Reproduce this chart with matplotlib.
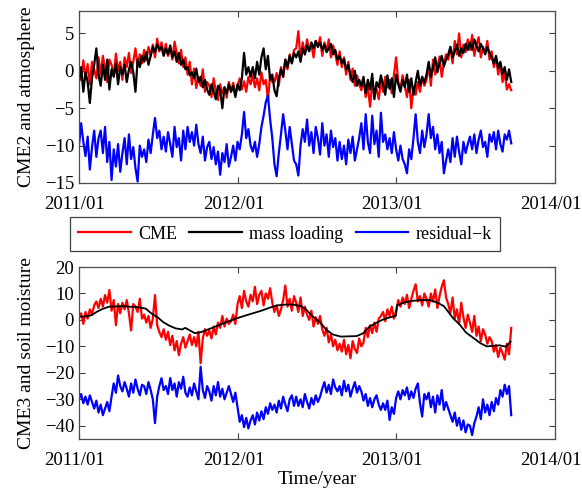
import numpy as np
import matplotlib
matplotlib.use("Agg")
import matplotlib.pyplot as plt
import matplotlib.transforms as mtransforms

plt.rcParams['font.family'] = ['Liberation Serif', 'DejaVu Serif']
plt.rcParams['axes.unicode_minus'] = True

# ---------------- data ----------------
start_year = 2011.0
step_days = 5  # sampling interval of the series below

cme2 = [0.5, -1.2, 1.4, -0.8, 0.9, -1.8, 1.2, 0.2, -1.0, 1.8,
        -0.5, 2.0, 0.3, -1.5, 1.5, 0.8, -0.6, 2.3, 0.0, 1.2,
        -1.2, 1.8, 0.5, 2.4, -0.3, 1.2, 3.0, 0.6, 2.2, 1.0,
        2.8, 1.4, 3.2, 2.0, 3.5, 1.8, 4.3, 2.6, 3.8, 2.2,
        3.6, 2.0, 3.2, 1.5, 3.9, 2.4, 1.0, 2.8, 0.5, 1.8,
        -0.5, 1.2, -1.8, 0.3, -2.3, -0.8, -2.0, 0.2, -2.8, -1.5,
        -2.0, -3.5, -1.0, -2.8, -3.9, -1.8, -3.0, -2.2, -3.6, -1.5,
        -2.8, -1.6, -3.2, -2.0, -1.0, -2.5, -1.4, -2.8, -0.8, -1.8,
        -0.6, -2.2, -1.0, -2.6, -0.2, -1.8, -1.2, -3.9, -0.5, -1.5,
        -1.5, -0.3, -2.0, 0.5, -0.8, 1.5, 0.2, 2.2, 1.0, 2.8,
        3.0, 5.3, 1.5, 3.8, 2.2, 4.2, 2.8, 3.5, 1.8, 4.0,
        3.2, 4.5, 2.0, 3.8, 2.6, 4.2, 1.8, 3.4, 2.2, 0.8,
        2.6, 0.5, 1.8, -0.5, 1.2, -1.2, 0.3, -2.0, -0.6, -1.8,
        -2.6, -1.2, -3.5, -2.0, -4.8, -1.8, -3.0, -2.4, -3.8, -1.4,
        -2.8, -0.8, -2.2, -1.2, -3.0, -0.5, 1.8, -1.5, -2.4, -0.6,
        -2.0, -3.5, -1.2, -5.0, -2.2, -3.2, -1.5, -2.8, -0.8, -2.0,
        -1.2, 0.8, -2.0, 1.5, -0.5, 0.5, 1.9, -0.8, 1.0, 2.2,
        1.5, 3.2, 1.0, 4.0, 2.2, 5.0, 1.8, 3.5, 2.5, 4.2,
        2.8, 4.8, 2.0, 3.5, 4.5, 1.8, 3.2, 2.4, 4.0, 1.5,
        2.6, 0.5, 1.8, -0.5, 1.0, -1.5, -0.2, -2.5, -1.8, -2.6]

mass2 = [-1.5, 0.5, -2.8, -0.2, -1.5, -4.3, -1.0, 0.8, 3.0, -0.5,
         -2.0, 0.8, -1.2, 1.5, -2.5, 0.2, -0.8, 1.0, -1.8, 0.5,
         -0.5, 0.8, -1.5, 0.2, 1.2, -0.2, -2.8, 1.5, 0.5, 2.0,
         1.2, 2.5, 0.8, 2.0, 3.2, 2.5, 3.5, 2.8, 3.2, 2.0,
         3.0, 2.2, 3.4, 1.8, 2.6, 1.2, 2.4, 0.8, 1.5, 0.2,
         0.5, -0.6, -0.2, -1.0, 0.3, -1.5, -0.8, -2.2, -1.2, -2.5,
         -3.2, -1.8, -2.8, -3.8, -2.0, -2.6, -5.0, -2.2, -3.0, -1.8,
         -2.8, -2.0, -3.5, -1.8, -2.6, -1.0, 2.4, -0.5, 0.5, -0.8,
         0.5, -1.0, 1.2, -0.5, 1.8, 3.0, 0.2, 2.0, -1.2, -0.5,
         -2.6, -3.4, -1.0, 0.2, -0.8, 1.5, 0.5, 2.0, 1.0, 2.4,
         1.8, 2.6, 1.2, 3.0, 2.2, 3.4, 2.6, 3.8, 3.0, 4.0,
         3.2, 3.8, 2.8, 3.5, 2.5, 3.0, 3.6, 2.2, 2.8, 1.5,
         2.0, 1.0, 1.6, 0.2, 0.8, -0.6, -1.5, 0.0, -2.0, -1.2,
         -2.0, -0.8, -3.0, -1.2, -2.5, -0.4, -3.8, -1.5, -2.2, -0.6,
         -1.8, -3.2, -0.6, -2.4, -1.0, -3.5, -0.5, -1.8, -2.8, -1.2,
         -2.2, -0.5, -2.8, -1.0, -3.2, -1.5, 0.0, -2.0, -0.8, -1.6,
         -0.5, 1.2, -0.8, 0.5, 1.8, -0.2, 1.0, 2.0, 0.6, 1.5,
         2.2, 3.2, 1.8, 2.6, 3.5, 2.0, 3.0, 2.4, 3.6, 2.8,
         3.8, 2.8, 4.2, 3.4, 2.6, 3.6, 3.0, 2.2, 3.2, 2.4,
         1.8, 1.0, 2.0, 0.4, 1.2, -0.4, 0.5, -1.2, 0.2, -1.5]

resid2 = [-10.0, -7.0, -9.5, -11.4, -8.8, -13.2, -10.2, -8.0, -11.5, -9.0,
          -8.0, -11.0, -7.5, -12.2, -9.5, -14.6, -10.5, -12.8, -9.8, -13.5,
          -11.0, -9.0, -12.5, -8.5, -11.8, -10.2, -13.0, -14.8, -10.0, -11.5,
          -10.5, -12.2, -9.2, -11.0, -8.5, -6.3, -9.0, -8.0, -10.5, -8.8,
          -10.8, -8.2, -9.8, -11.5, -7.5, -10.2, -9.0, -12.0, -8.0, -10.5,
          -7.5, -9.5, -8.2, -10.0, -7.2, -9.8, -11.0, -8.8, -12.0, -10.2,
          -9.5, -11.8, -10.2, -12.5, -10.8, -13.9, -11.0, -12.2, -9.8, -12.8,
          -11.5, -10.0, -12.0, -9.5, -10.5, -8.5, -5.5, -9.0, -7.8, -10.0,
          -10.8, -9.5, -11.5, -9.8, -7.5, -6.0, -4.2, -3.3, -6.5, -9.0,
          -12.5, -14.1, -11.0, -8.5, -5.8, -8.0, -10.5, -7.5, -9.8, -12.0,
          -12.5, -14.0, -10.0, -7.8, -9.5, -6.5, -10.0, -8.2, -11.0, -7.5,
          -9.0, -11.2, -7.0, -10.0, -8.5, -11.5, -8.0, -10.2, -9.0, -12.0,
          -9.5, -11.8, -10.0, -12.5, -9.2, -11.0, -8.8, -12.0, -10.5, -9.0,
          -7.0, -10.5, -5.8, -9.5, -11.0, -6.0, -9.8, -8.0, -11.5, -5.6,
          -9.5, -8.5, -10.5, -9.0, -11.0, -8.2, -10.5, -12.0, -10.0, -11.8,
          -12.5, -13.7, -10.5, -11.8, -9.0, -5.8, -9.5, -11.0, -8.0, -10.2,
          -8.5, -5.8, -9.0, -7.5, -10.5, -8.5, -11.0, -9.5, -13.7, -12.0,
          -10.5, -12.2, -9.0, -11.5, -8.8, -10.8, -12.5, -9.5, -11.0, -9.8,
          -8.8, -10.5, -8.5, -11.0, -9.2, -8.0, -10.2, -9.5, -11.5, -8.5,
          -9.5, -8.2, -10.5, -8.0, -9.8, -10.8, -8.5, -9.2, -8.0, -9.7]

cme3 = [1.0, 2.5, -1.5, 3.0, 0.5, 4.0, 2.0, 5.5, 7.0, 4.5,
        8.0, 5.0, 9.4, 6.5, 11.3, 3.5, 7.5, -2.0, 6.0, 2.5,
        6.5, 4.0, 7.5, 2.5, -4.0, 6.0, 5.0, 3.0, 8.0, 0.5,
        2.0, -1.0, 1.5, -3.0, 0.5, 9.4, -2.0, -4.5, -6.5, -3.5,
        -7.5, -4.5, -9.5, -6.0, -11.5, -8.0, -13.3, -9.0, -6.5, -10.5,
        -8.0, -5.5, -9.5, -6.5, -10.0, -4.5, -16.4, -7.0, -3.5, -6.0,
        -4.0, -7.0, -2.5, -5.5, -1.0, -3.0, 1.5, -2.5, 0.5, -1.5,
        -0.5, 2.0, -1.5, 6.0, 9.0, 4.5, 11.0, 7.0, 5.0, 9.5,
        7.0, 12.5, 6.0, 9.5, 11.0, 5.5, 10.0, 8.0, 12.0, 6.5,
        3.0, 5.5, 1.5, 4.0, 7.5, 13.0, 5.0, 8.0, 3.5, 9.0,
        6.5, 3.0, 8.5, 1.5, 5.0, 2.0, 0.0, 3.5, -2.5, 1.0,
        -1.5, 1.5, -3.5, -6.0, -3.0, -8.5, -5.5, -10.0, -7.5, -11.5,
        -9.0, -12.0, -7.5, -13.0, -9.5, -14.5, -8.0, -11.0, -12.5, -7.0,
        -10.0, -8.5, -3.0, -6.5, -2.0, -5.0, -1.0, -4.5, 0.5, 1.5,
        3.0, -0.5, 4.0, 1.5, 5.0, 0.5, 3.5, 7.5, 5.0, 8.5,
        6.0, 9.5, 4.5, 8.0, 11.0, 13.5, 7.0, 9.0, 5.5, 10.0,
        8.0, 5.0, 10.0, 7.0, 11.5, 4.5, 9.0, 12.5, 15.0, 8.5,
        6.0, 2.5, 8.5, 0.5, 4.0, -1.5, 6.5, 1.0, -3.0, 2.0,
        -1.0, -4.5, 1.5, -6.0, -2.5, -8.0, -3.5, -5.5, -9.0, -6.5,
        -8.0, -12.0, -9.5, -14.0, -10.5, -12.5, -15.0, -9.0, -13.0, -3.0]

resid3 = [-30.0, -28.0, -31.5, -29.0, -32.0, -28.5, -31.0, -33.5, -30.5, -35.0,
          -32.0, -36.0, -33.5, -31.0, -34.5, -29.0, -24.0, -27.5, -21.0, -25.0,
          -27.0, -23.5, -26.0, -29.0, -24.0, -27.5, -22.5, -26.0, -28.5, -24.5,
          -25.0, -28.0, -23.5, -26.5, -30.0, -39.0, -29.0, -25.0, -22.0, -26.5,
          -25.0, -28.0, -22.0, -26.5, -24.0, -29.0, -23.5, -26.0, -21.5, -27.5,
          -29.0, -25.5, -28.5, -24.0, -27.0, -30.0, -17.7, -26.5, -29.5, -25.0,
          -27.0, -30.5, -25.0, -28.5, -23.5, -29.0, -26.0, -30.0, -27.5, -25.0,
          -28.0, -31.0, -27.5, -33.0, -38.5, -36.0, -40.5, -37.0, -41.0, -38.0,
          -36.0, -39.5, -35.0, -38.0, -34.5, -37.5, -33.0, -35.5, -31.5, -34.0,
          -32.0, -35.0, -30.5, -33.5, -29.0, -32.0, -34.5, -30.0, -28.5, -32.5,
          -29.0, -32.5, -30.0, -33.0, -28.0, -31.0, -33.5, -29.5, -32.0, -28.5,
          -31.0, -29.0, -26.0, -23.5, -27.5, -24.5, -28.0, -22.5, -25.5, -27.0,
          -25.0, -28.5, -23.0, -27.0, -24.5, -29.0, -26.0, -23.5, -27.5, -25.0,
          -27.0, -30.5, -28.0, -32.5, -29.5, -33.0, -30.0, -28.5, -32.0, -34.0,
          -31.5, -34.0, -30.5, -37.8, -33.0, -35.5, -29.5, -27.0, -30.0, -26.5,
          -28.5, -25.5, -30.0, -27.0, -29.5, -26.0, -24.0, -31.5, -36.5, -28.0,
          -30.0, -27.5, -33.0, -29.0, -35.0, -28.5, -32.0, -26.5, -34.0, -31.0,
          -33.5, -36.0, -38.5, -35.0, -40.0, -37.0, -41.5, -38.0, -42.5, -39.5,
          -40.0, -43.5, -39.0, -36.5, -33.0, -37.5, -30.0, -35.0, -32.0, -36.0,
          -31.0, -34.5, -29.5, -32.0, -26.5, -29.0, -24.5, -28.0, -25.0, -36.0]

# smooth soil-moisture loading curve (decimal year, value)
soil_t = [2011.00, 2011.04, 2011.08, 2011.11, 2011.15, 2011.19, 2011.24, 2011.28,
          2011.32, 2011.36, 2011.42, 2011.46, 2011.50, 2011.53, 2011.57, 2011.61,
          2011.65, 2011.67, 2011.70, 2011.73, 2011.77, 2011.80, 2011.84, 2011.88,
          2011.93, 2011.99, 2012.04, 2012.09, 2012.15, 2012.20, 2012.25, 2012.30,
          2012.35, 2012.40, 2012.43, 2012.47, 2012.52, 2012.56, 2012.60, 2012.65,
          2012.70, 2012.75, 2012.79, 2012.83, 2012.87, 2012.91, 2012.95, 2012.998,
          2013.004, 2013.05, 2013.10, 2013.16, 2013.21, 2013.26, 2013.30, 2013.36,
          2013.40, 2013.44, 2013.49, 2013.53, 2013.57, 2013.61, 2013.65, 2013.69,
          2013.72]
soil_v = [1.2, 1.3, 1.8, 3.0, 4.2, 5.0, 5.1, 5.2,
          5.0, 4.9, 4.3, 2.3, 0.8, -0.8, -2.2, -3.2,
          -3.6, -3.0, -4.0, -5.0, -4.6, -3.9, -3.0, -2.0,
          -0.8, 0.5, 1.5, 2.4, 3.5, 4.6, 5.5, 5.8,
          5.8, 5.2, 4.0, 1.5, -1.0, -3.8, -5.5, -6.3,
          -6.2, -6.1, -5.1, -2.6, -1.2, 0.0, 0.8, 1.6,
          5.5, 6.6, 7.2, 7.5, 7.5, 6.5, 5.2, 0.5,
          -1.8, -4.8, -7.0, -8.8, -10.0, -9.8, -9.6, -10.1,
          -8.2]

year_ticks = [2011, 2012, 2013, 2014]
year_labels = ['2011/01', '2012/01', '2013/01', '2014/01']
legend_labels = ['CME', 'mass loading', 'residual\u2212k']
ylabels = ['CME2 and atmosphere', 'CME3 and soil moisture']

# ---------------- plotting ----------------
t = start_year + np.arange(len(cme2)) * step_days / 365.25

fig = plt.figure(figsize=(5.82, 4.91), dpi=100)
ax1 = fig.add_axes([0.1357, 0.6273, 0.8179, 0.3503])
ax2 = fig.add_axes([0.1357, 0.1059, 0.8179, 0.3503])

lw = 1.6
h1, = ax1.plot(t, cme2, color='#ff0000', lw=lw)
h2, = ax1.plot(t, mass2, color='black', lw=lw)
h3, = ax1.plot(t, resid2, color='#0000ff', lw=lw)

ax2.plot(t, cme3, color='#ff0000', lw=lw)
ax2.plot(soil_t, soil_v, color='black', lw=1.3)
ax2.plot(t, resid3, color='#0000ff', lw=lw)

ax1.set_ylim(-15, 8)
ax1.set_yticks([-15, -10, -5, 0, 5])
ax2.set_ylim(-45, 20)
ax2.set_yticks([-40, -30, -20, -10, 0, 10, 20])

shift = mtransforms.ScaledTranslation(-0.04, 0, fig.dpi_scale_trans)
for ax, yl in zip((ax1, ax2), ylabels):
    ax.set_xlim(2011, 2014)
    ax.set_xticks(year_ticks)
    ax.set_xticklabels(year_labels)
    ax.tick_params(direction='in', top=True, right=True, length=4,
                   width=0.8, labelsize=13.5, colors='0.25', labelcolor='black')
    ax.tick_params(axis='x', pad=9.5)
    for lab in ax.get_xticklabels():
        lab.set_transform(lab.get_transform() + shift)
    for s in ax.spines.values():
        s.set_color('0.3')
        s.set_linewidth(0.9)
    ax.set_ylabel(yl, fontsize=14, labelpad=7)

ax2.set_xlabel('Time/year', fontsize=14, labelpad=1)

fig.legend([h1, h2, h3], legend_labels, loc='center', bbox_to_anchor=(0.4897, 0.5234),
           ncol=3, fontsize=13, frameon=True, fancybox=False, edgecolor='0.25',
           handlelength=2.9, handletextpad=0.4, columnspacing=0.7,
           borderpad=0.45, framealpha=1)
fig.legends[0].get_frame().set_linewidth(0.9)

fig.savefig('out.png', dpi=100)
